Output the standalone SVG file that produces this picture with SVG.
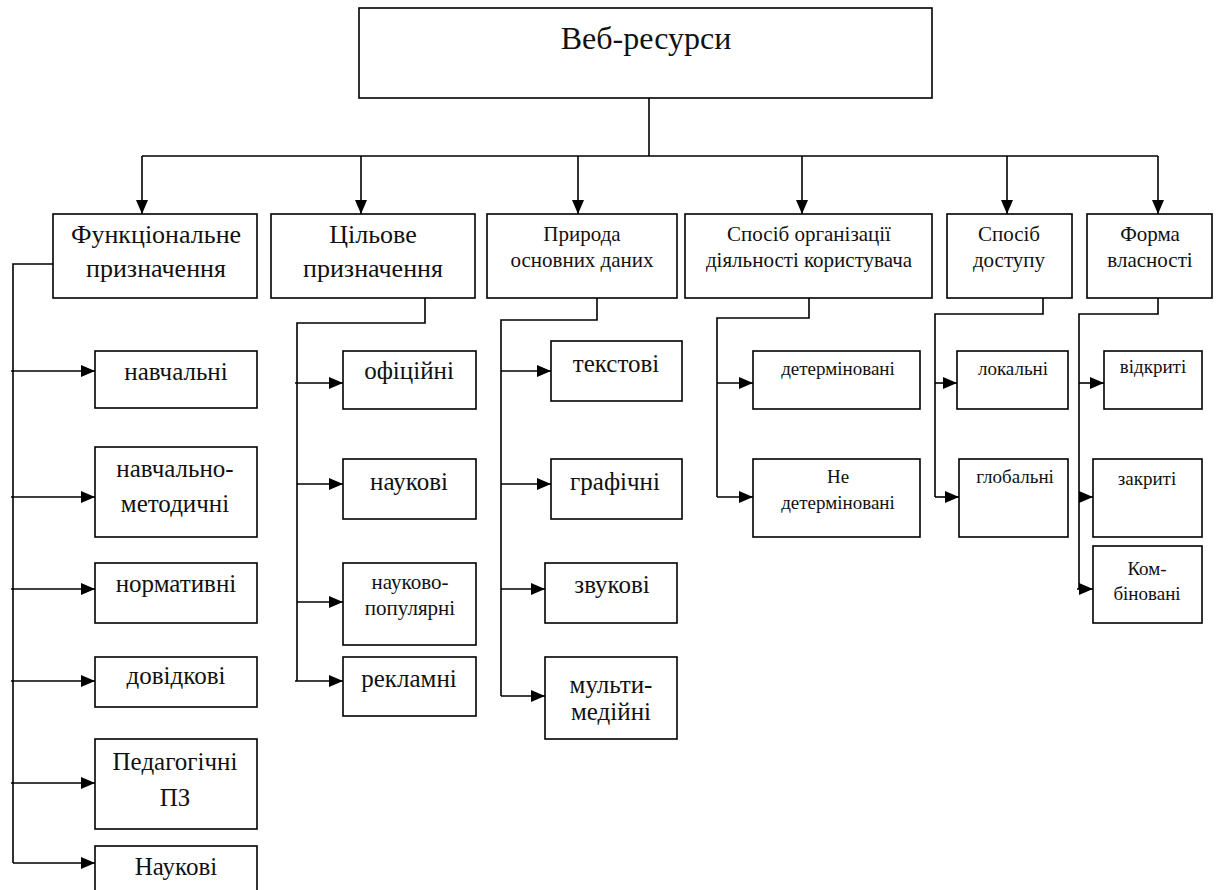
<svg xmlns="http://www.w3.org/2000/svg" width="1229" height="890" viewBox="0 0 1229 890" font-family="'Liberation Serif', 'DejaVu Serif', serif">
<style>
rect{fill:#fff;stroke:#000;stroke-width:1.6}
text{font-family:'Liberation Serif','DejaVu Serif',serif;fill:#111;text-anchor:middle}
.t0{font-size:32px}
.t1{font-size:26px}
.t2{font-size:21px}
.c{font-size:25px}
.s{font-size:21px}
.x{font-size:19px}
#connectors path{fill:none;stroke:#000;stroke-width:1.6}
</style>
<defs>
<marker id="ah" markerUnits="userSpaceOnUse" markerWidth="14" markerHeight="12" refX="14" refY="6" orient="auto">
<path d="M0,0 L14,6 L0,12 z" fill="#000"/>
</marker>
</defs>
<rect x="0" y="0" width="1229" height="890" style="fill:#fff;stroke:none"/>
<g id="connectors">
<path d="M649,98 V156"/>
<path d="M142,156 H1158"/>
<path d="M142,156 V214" marker-end="url(#ah)"/>
<path d="M361,156 V214" marker-end="url(#ah)"/>
<path d="M578,156 V214" marker-end="url(#ah)"/>
<path d="M802,156 V214" marker-end="url(#ah)"/>
<path d="M1007,156 V214" marker-end="url(#ah)"/>
<path d="M1158,156 V214" marker-end="url(#ah)"/>
<path d="M53,264 H13 V863"/>
<path d="M11,371 H95" marker-end="url(#ah)"/>
<path d="M11,497 H95" marker-end="url(#ah)"/>
<path d="M11,589 H95" marker-end="url(#ah)"/>
<path d="M11,681 H95" marker-end="url(#ah)"/>
<path d="M11,783 H95" marker-end="url(#ah)"/>
<path d="M13,863 H95" marker-end="url(#ah)"/>
<path d="M425,298 V323 H297 V681"/>
<path d="M295,383 H343" marker-end="url(#ah)"/>
<path d="M297,484 H343" marker-end="url(#ah)"/>
<path d="M297,602 H343" marker-end="url(#ah)"/>
<path d="M295,681 H343" marker-end="url(#ah)"/>
<path d="M597,298 V320 H501 V696"/>
<path d="M501,371 H551" marker-end="url(#ah)"/>
<path d="M501,484 H551" marker-end="url(#ah)"/>
<path d="M501,589 H545" marker-end="url(#ah)"/>
<path d="M501,696 H545" marker-end="url(#ah)"/>
<path d="M809,298 V318 H717 V497"/>
<path d="M717,383 H753" marker-end="url(#ah)"/>
<path d="M717,497 H753" marker-end="url(#ah)"/>
<path d="M1043,298 V314 H935 V497"/>
<path d="M935,383 H957" marker-end="url(#ah)"/>
<path d="M935,497 H959" marker-end="url(#ah)"/>
<path d="M1158,298 V314 H1079 V589"/>
<path d="M1079,383 H1104" marker-end="url(#ah)"/>
<path d="M1079,497 H1093" marker-end="url(#ah)"/>
<path d="M1077,589 H1093" marker-end="url(#ah)"/>
</g>
<g id="root"><rect x="359" y="8" width="573" height="90"/><text class="t0" x="646" y="49">Веб-ресурси</text></g>
<g id="n1"><rect x="53" y="214" width="204" height="84"/><text class="t1" x="156" y="243">Функціональне</text><text class="t1" x="156" y="277">призначення</text></g>
<g id="n2"><rect x="271" y="214" width="204" height="84"/><text class="t1" x="373" y="243">Цільове</text><text class="t1" x="373" y="277">призначення</text></g>
<g id="n3"><rect x="487" y="214" width="190" height="84"/><text class="t2" x="582" y="241">Природа</text><text class="t2" x="582" y="267">основних даних</text></g>
<g id="n4"><rect x="685" y="214" width="247" height="84"/><text class="t2" x="809" y="241">Спосіб організації</text><text class="t2" x="809" y="267">діяльності користувача</text></g>
<g id="n5"><rect x="947" y="214" width="125" height="84"/><text class="t2" x="1009" y="241">Спосіб</text><text class="t2" x="1009" y="267">доступу</text></g>
<g id="n6"><rect x="1087" y="214" width="125" height="84"/><text class="t2" x="1150" y="241">Форма</text><text class="t2" x="1150" y="267">власності</text></g>
<g id="n1a"><rect x="95" y="351" width="162" height="57"/><text class="c" x="176" y="380">навчальні</text></g>
<g id="n1b"><rect x="95" y="447" width="162" height="90"/><text class="c" x="175" y="477">навчально-</text><text class="c" x="175" y="512">методичні</text></g>
<g id="n1c"><rect x="95" y="563" width="162" height="60"/><text class="c" x="176" y="592">нормативні</text></g>
<g id="n1d"><rect x="95" y="657" width="162" height="50"/><text class="c" x="176" y="684">довідкові</text></g>
<g id="n1e"><rect x="95" y="739" width="162" height="90"/><text class="c" x="175" y="770">Педагогічні</text><text class="c" x="175" y="806">ПЗ</text></g>
<g id="n1f"><rect x="95" y="846" width="162" height="60"/><text class="c" x="176" y="875">Наукові</text></g>
<g id="n2a"><rect x="343" y="351" width="133" height="58"/><text class="c" x="409" y="379">офіційні</text></g>
<g id="n2b"><rect x="343" y="459" width="133" height="60"/><text class="c" x="409" y="490">наукові</text></g>
<g id="n2c"><rect x="343" y="563" width="133" height="82"/><text class="s" x="410" y="589">науково-</text><text class="s" x="410" y="615">популярні</text></g>
<g id="n2d"><rect x="343" y="657" width="133" height="59"/><text class="c" x="409" y="687">рекламні</text></g>
<g id="n3a"><rect x="551" y="341" width="131" height="60"/><text class="c" x="616" y="372">текстові</text></g>
<g id="n3b"><rect x="551" y="459" width="131" height="60"/><text class="c" x="615" y="490">графічні</text></g>
<g id="n3c"><rect x="545" y="563" width="132" height="60"/><text class="c" x="612" y="593">звукові</text></g>
<g id="n3d"><rect x="545" y="657" width="132" height="82"/><text class="c" x="611" y="693">мульти-</text><text class="c" x="611" y="720">медійні</text></g>
<g id="n4a"><rect x="753" y="351" width="167" height="58"/><text class="x" x="838" y="375">детерміновані</text></g>
<g id="n4b"><rect x="753" y="459" width="167" height="78"/><text class="x" x="838" y="483">Не</text><text class="x" x="838" y="509">детерміновані</text></g>
<g id="n5a"><rect x="957" y="351" width="111" height="58"/><text class="x" x="1013" y="375">локальні</text></g>
<g id="n5b"><rect x="959" y="459" width="109" height="78"/><text class="x" x="1015" y="483">глобальні</text></g>
<g id="n6a"><rect x="1104" y="351" width="98" height="58"/><text class="x" x="1153" y="373">відкриті</text></g>
<g id="n6b"><rect x="1093" y="459" width="109" height="78"/><text class="x" x="1147" y="485">закриті</text></g>
<g id="n6c"><rect x="1093" y="546" width="109" height="77"/><text class="x" x="1147" y="575">Ком-</text><text class="x" x="1147" y="600">біновані</text></g>
</svg>
